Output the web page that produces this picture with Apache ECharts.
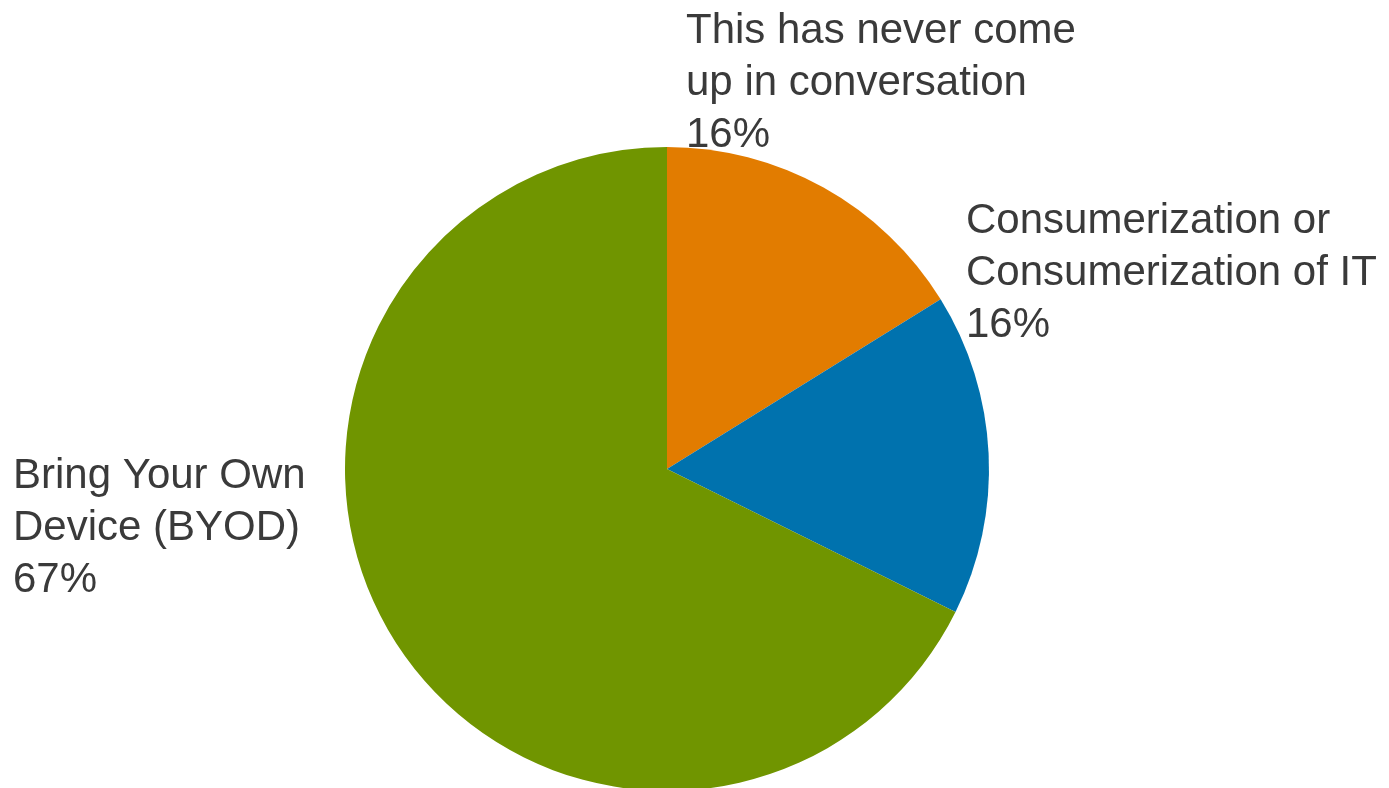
<!DOCTYPE html>
<html>
<head>
<meta charset="utf-8">
<script src="https://cdn.jsdelivr.net/npm/echarts@6/dist/echarts.min.js"></script>
<style>html,body{margin:0;padding:0;background:#fff;}#c{width:1389px;height:788px;}</style>
</head>
<body>
<div id="c"></div>
<script>
const categories = ["This has never come\nup in conversation", "Consumerization or\nConsumerization of IT", "Bring Your Own\nDevice (BYOD)"];
const values = [16, 16, 67];
const colors = ["#E27C00", "#0072AE", "#709500"];
const labelPos = [[686, 5], [966, 195], [13, 450]];

const chart = echarts.init(document.getElementById('c'), null, {renderer: 'canvas'});
chart.setOption({
  animation: false,
  series: [{
    type: 'pie',
    center: [667, 469],
    radius: 322,
    startAngle: 90,
    clockwise: true,
    data: categories.map((n, i) => ({name: n, value: values[i], itemStyle: {color: colors[i]}})),
    itemStyle: {borderWidth: 0},
    label: {
      show: true,
      position: 'outside',
      formatter: p => p.name + '\n' + p.value + '%',
      fontFamily: '"Liberation Sans", Arial, sans-serif',
      fontSize: 42,
      lineHeight: 52,
      color: '#3a3a3a',
      align: 'left',
      overflow: 'none',
      width: 500
    },
    labelLine: {show: false},
    labelLayout: p => ({x: labelPos[p.dataIndex][0], y: labelPos[p.dataIndex][1], align: 'left', verticalAlign: 'top'}),
    emphasis: {disabled: true}
  }]
});
</script>
</body>
</html>
